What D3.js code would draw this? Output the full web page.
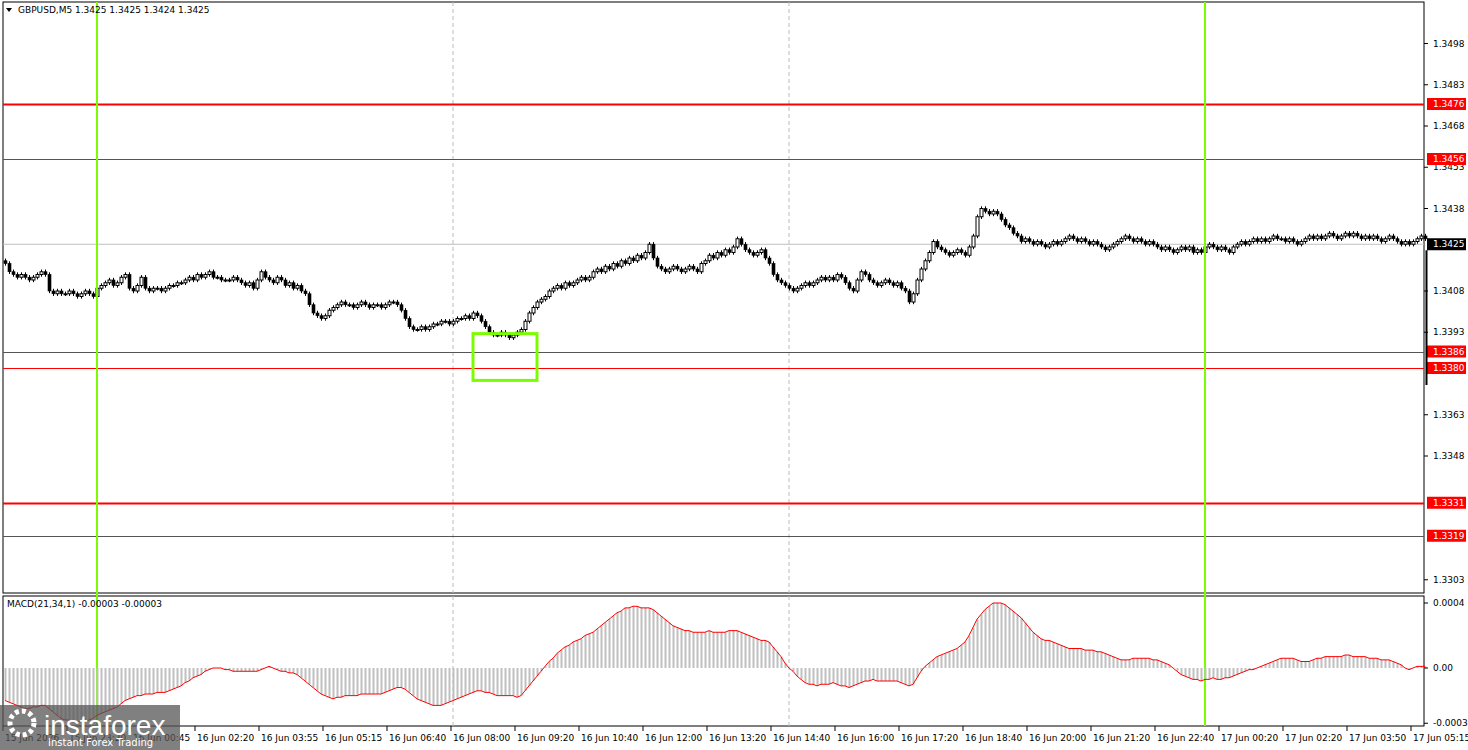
<!DOCTYPE html>
<html><head><meta charset="utf-8">
<script src="https://cdn.jsdelivr.net/npm/d3@7"></script>
<style>body{margin:0;background:#fff}svg{display:block;font-family:"DejaVu Sans",sans-serif}</style>
</head><body><svg id="c" width="1468" height="750"></svg>
<script>
// closes in pips above 1.3400
const closes = [18,15, 14,13,14,13,12,13,14,15,14, 8,7,8,7, 7,8,7,6,7,8,7,6,9,
10,11,12,10,11,13,14,9,8, 10,13,9, 8,9,9,8,9,10,10,11,11,
12,13,12,14,13,14,15,13,13,12,12,12,13,12,11, 10,11,9,12,15,
13,12,11,13,12,10,11,9,10,8, 7,3,0,-1,-2,-1,1,2,
3,4,3,3,2,3,4,3,2,3,3,2,3,4,4,3,1, -2,-5,-6,-6,-5,
-6,-5,-4,-4,-3,-3,-4,-3, -2,-2,-1,-2,0,-1,-3,-5,
-7,-8,-8,-7,-8,-9,-8,-7,-6, -3,0,2,4,5,6,8,
9,10,9,11,10,11,12,13,12,13,15,16,15, 17,16,18,17,19,18,20,19,21,20,22,
25,20,17, 16,15,16,17,16,15,16,17,16,15,18, 19,21,20,22,21,23,22,24,
27,25,23,22,21,22,23,20,18, 14,12,11,10,9,8,9,10,11,
10,11,12,13,12,13,12,14,13,11,9,8, 12,15,14,12,11,10,11,12,11,10,11,9,8,
4,7,12,16,19,22,26, 24,23,22,21,22,23,22,21,24,28, 35,38,37,36,37,36,34,32,
31,29,28,26,27,26,25,26,25,24,25,26,
25,26,27,28,27,26,27,26,25,26,25,24,23,24,25,26,27,28,
27,26,27,26,25,26,25,24,23,24,23,22,23,24,23,24,22,23,22,24,
25,24,23,24,23,22,24,25,26,25,26,27,26,27,26,27,28,27,27,26,
27,26,25,26,27,28,27,28,27,28,29,28,27,28,29,28,29,28,27,28,
27,28,27,26,27,28,27,26,25,26,25,26,27,28,27];
const macd = [-20,-21,-22,-23,-24,-25,-25,-24,-24,-23,-23,-25,-27,-29,-31,-32,-32,-33,-33,-33,
-33,-32,-31,-29,-28,-27,-26,-25,-24,-22,-20,-19,-18,-17,-17,-16,-16,-16,-15,-15,
-15,-14,-13,-12,-11,-9,-8,-6,-5,-4,-2,-1,0,0,0,-1,-1,-2,-2,-2,
-2,-2,-2,-2,-1,0,1,0,-1,-2,-2,-3,-3,-4,-6,-8,-10,-12,-14,-16,
-17,-18,-19,-18,-18,-17,-17,-17,-17,-16,-16,-16,-16,-16,-16,-15,-14,-13,-12,-12,
-13,-15,-17,-19,-20,-21,-22,-23,-23,-23,-22,-21,-20,-19,-18,-17,-16,-15,-14,-14,
-15,-15,-16,-17,-17,-17,-17,-17,-18,-17,-14,-11,-8,-5,-2,1,4,6,9,11,
13,14,16,17,18,20,21,22,24,26,28,30,32,34,35,37,37,38,38,37,
37,37,36,34,32,30,28,26,25,24,23,23,22,22,22,22,23,22,22,22,
22,23,23,23,22,21,20,19,18,17,17,16,13,10,7,3,0,-2,-5,-7,
-9,-10,-10,-11,-10,-10,-10,-9,-10,-11,-11,-12,-11,-10,-9,-8,-8,-7,-8,-8,
-8,-8,-8,-8,-9,-10,-11,-10,-6,-2,1,3,5,7,8,9,10,11,12,14,
16,20,25,30,33,36,38,40,40,40,39,37,35,33,31,28,25,22,20,18,
17,17,16,15,14,13,12,12,12,12,11,11,11,10,10,9,8,7,6,5,
5,5,6,6,6,6,6,5,5,4,3,2,0,-2,-4,-5,-6,-7,-7,-8,
-7,-7,-6,-7,-7,-6,-6,-5,-4,-3,-2,-1,-1,0,1,2,3,4,5,6,
6,6,6,5,4,4,4,5,6,6,7,7,7,7,7,8,8,7,7,7,
7,6,6,6,5,5,5,4,3,2,0,-1,0,1,1,1];
const timeLabels = ["15 Jun 2026","15 Jun 23:20","16 Jun 00:45","16 Jun 02:20","16 Jun 03:55","16 Jun 05:15","16 Jun 06:40","16 Jun 08:00","16 Jun 09:20","16 Jun 10:40","16 Jun 12:00","16 Jun 13:20","16 Jun 14:40","16 Jun 16:00","16 Jun 17:20","16 Jun 18:40","16 Jun 20:00","16 Jun 21:20","16 Jun 22:40","17 Jun 00:20","17 Jun 02:20","17 Jun 03:50","17 Jun 05:15"];
const priceTicks = [1.3498,1.3483,1.3468,1.3453,1.3438,1.3408,1.3393,1.3363,1.3348,1.3303];
const redLevels = [1.3476,1.3456,1.3386,1.3380,1.3331,1.3319];
const redLevelThick = [true,false,false,false,true,false];
const redLevelColor = ["#ff0000","#555","#555","#ff0000","#ff0000","#555"];
const currentPrice = 1.3425;
const greenLineBars = [23,300];
const dashedBars = [112,196];
const macdTicks = [0.0004,0,-0.00034];
const macdTickLabels = ["0.0004","0.00","-0.00034"];
const boxBars = [117,133]; const boxPrices = [1.33925,1.33755];

const svg = d3.select("#c");
const L=3,R=1424,T=2,B=593,MT=596,MB=726;
const x = d3.scaleLinear().domain([0,1]).range([5,9]);
const y = d3.scaleLinear().domain([1.3476,1.3380]).range([104,368]);
const ym = d3.scaleLinear().domain([0,0.0004]).range([668,603]);
const price = v=>1.34+v/10000;

// frames
svg.append("rect").attr("x",L).attr("y",T).attr("width",R-L).attr("height",B-T).attr("fill","none").attr("stroke","#000");
svg.append("rect").attr("x",L).attr("y",MT).attr("width",R-L).attr("height",MB-MT).attr("fill","none").attr("stroke","#000");

// dashed separators
dashedBars.forEach(b=>{
 svg.append("line").attr("x1",x(b)).attr("x2",x(b)).attr("y1",T).attr("y2",B).attr("stroke","#bbb").attr("stroke-dasharray","4,3");
 svg.append("line").attr("x1",x(b)).attr("x2",x(b)).attr("y1",MT).attr("y2",MB).attr("stroke","#bbb").attr("stroke-dasharray","4,3");
});
// current price line
svg.append("line").attr("x1",L).attr("x2",R).attr("y1",y(currentPrice)).attr("y2",y(currentPrice)).attr("stroke","#c0c0c0");
// levels
redLevels.forEach((p,i)=>{
 svg.append("line").attr("x1",L).attr("x2",R).attr("y1",Math.round(y(p))+0.5).attr("y2",Math.round(y(p))+0.5)
  .attr("stroke",redLevelColor[i]).attr("stroke-width",redLevelThick[i]?2:1);
});
// candles
const g = svg.append("g");
closes.forEach((c,i)=>{
 const o = i===0?c+1:closes[i-1];
 const hi=Math.max(o,c)+0.8, lo=Math.min(o,c)-0.8;
 const cx=Math.round(x(i))+0.5;
 g.append("line").attr("x1",cx).attr("x2",cx).attr("y1",y(price(hi))).attr("y2",y(price(lo))).attr("stroke","#000");
 const top=y(price(Math.max(o,c))), bot=y(price(Math.min(o,c)));
 const bull=c>=o;
 g.append("rect").attr("x",cx-1.5).attr("y",top).attr("width",3).attr("height",Math.max(1,bot-top))
  .attr("fill",bull?"#fff":"#000").attr("stroke","#000").attr("stroke-width",bull?1:0.6);
});
// green lines
greenLineBars.forEach(b=>{
 svg.append("line").attr("x1",x(b)).attr("x2",x(b)).attr("y1",T).attr("y2",MB).attr("stroke","#7cfc00").attr("stroke-width",2);
});
// green box
svg.append("rect").attr("x",x(boxBars[0])).attr("y",y(boxPrices[0])).attr("width",x(boxBars[1])-x(boxBars[0])).attr("height",y(boxPrices[1])-y(boxPrices[0]))
 .attr("fill","none").attr("stroke","#7cfc00").attr("stroke-width",3);

// price axis
const ax=svg.append("g").attr("font-size",9).attr("fill","#000");
priceTicks.forEach(p=>{
 ax.append("line").attr("x1",R).attr("x2",R+4).attr("y1",y(p)).attr("y2",y(p)).attr("stroke","#000");
 ax.append("text").attr("x",1433).attr("y",y(p)+3).text(p.toFixed(4));
});
redLevels.forEach(p=>{
 ax.append("rect").attr("x",1427).attr("y",y(p)-6).attr("width",39).attr("height",12).attr("fill","#ff0000");
 ax.append("text").attr("x",1433).attr("y",y(p)+3).attr("fill","#fff").text(p.toFixed(4));
});
ax.append("rect").attr("x",1427).attr("y",y(currentPrice)-6).attr("width",39).attr("height",12).attr("fill","#000");
ax.append("text").attr("x",1433).attr("y",y(currentPrice)+3).attr("fill","#fff").text(currentPrice.toFixed(4));
svg.append("line").attr("x1",1426.5).attr("x2",1426.5).attr("y1",y(currentPrice)+6).attr("y2",385).attr("stroke","#000").attr("stroke-width",2);

// MACD
const mg=svg.append("g");
macd.forEach((m,i)=>{
 const v=m/100000;
 mg.append("rect").attr("x",Math.round(x(i))-0.5).attr("width",2).attr("y",Math.min(ym(v),ym(0))).attr("height",Math.abs(ym(v)-ym(0))).attr("fill","#c0c0c0");
});
mg.append("path").datum(macd).attr("fill","none").attr("stroke","#ff0000").attr("stroke-width",1)
 .attr("d",d3.line().x((d,i)=>x(i)).y(d=>ym(d/100000)));
macdTicks.forEach((t,i)=>{
 svg.append("line").attr("x1",R).attr("x2",R+4).attr("y1",ym(t)).attr("y2",ym(t)).attr("stroke","#000");
 svg.append("text").attr("x",1433).attr("y",ym(t)+3).attr("font-size",9).text(macdTickLabels[i]);
});
// time axis
timeLabels.forEach((t,k)=>{
 const xx=L+64*k;
 svg.append("line").attr("x1",xx).attr("x2",xx).attr("y1",MB).attr("y2",MB+5).attr("stroke","#000");
 svg.append("text").attr("x",xx+2).attr("y",741).attr("font-size",9).text(t);
});
// titles
svg.append("path").attr("d","M6,8 L12,8 L9,12 Z").attr("fill","#000");
svg.append("text").attr("x",18).attr("y",13).attr("font-size",9).text("GBPUSD,M5  1.3425 1.3425 1.3424 1.3425");
svg.append("text").attr("x",7).attr("y",607).attr("font-size",9).text("MACD(21,34,1) -0.00003 -0.00003");
// watermark
svg.append("rect").attr("x",0).attr("y",705).attr("width",180).attr("height",45).attr("fill","#555").attr("opacity",0.75);
svg.append("circle").attr("cx",22).attr("cy",723).attr("r",12).attr("fill","none").attr("stroke","#fff").attr("stroke-width",5).attr("stroke-dasharray","4,3");
svg.append("text").attr("x",44).attr("y",735).attr("font-size",28).attr("fill","#fff").attr("font-family","Liberation Sans").text("instaforex");
svg.append("text").attr("x",48).attr("y",746).attr("font-size",10).attr("fill","#fff").text("Instant Forex Trading");
</script></body></html>
